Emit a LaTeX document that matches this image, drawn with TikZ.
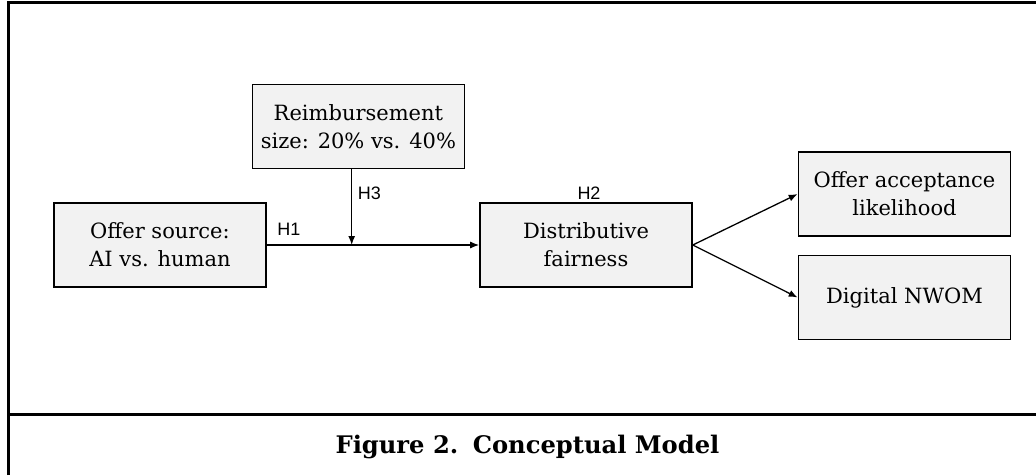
\documentclass[tikz,border=0pt]{standalone}
\usepackage{fontspec}
\setmainfont{DejaVu Serif}
\newfontfamily\lblfont{Liberation Sans}
\usetikzlibrary{arrows.meta}
\definecolor{boxfill}{RGB}{242,242,242}
\begin{document}
\begin{tikzpicture}[x=1pt,y=-1pt,
  box/.style={draw=black, line width=1.6pt, fill=boxfill, minimum width=212pt,
    minimum height=84pt, inner sep=0pt, align=center,
    font=\fontsize{21}{28}\selectfont},
  conn/.style={line width=1.3pt, -{Latex[length=9pt,width=7pt]}},
  hlab/.style={font=\lblfont\fontsize{18}{20}\selectfont, inner sep=0pt},
  framel/.style={line width=2.8pt}]
\useasboundingbox (0,0) rectangle (1036,475);
% frame
\draw[framel] (8.7,475) -- (8.7,2.7) -- (1036,2.7);
\draw[framel] (8.7,414.7) -- (1036,414.7);
% boxes
\node[box] (reim) at (358.4,126.5) {Reimbursement\\size: 20\% vs. 40\%};
\node[box] (src)  at (160,245) {Offer source:\\AI vs. human};
\node[box] (dist) at (586,245) {Distributive\\fairness};
\node[box] (acc)  at (904.5,194) {Offer acceptance\\likelihood};
\node[box] (nwom) at (904.5,297.5) {Digital NWOM};
% connectors
\coordinate (mod) at (351.7,245);
\draw[conn] (src.east) -- (dist.west);
\draw[conn] (reim.south -| mod) -- (mod);
\draw[conn] (dist.east) -- (acc.west);
\draw[conn] (dist.east) -- (nwom.west);
% labels
\node[hlab] (h1) at (289,229) {H1};
\node[hlab] (h3) at (369.5,193) {H3};
\node[hlab] (h2) at (589,193) {H2};
% caption
\node[font=\bfseries\fontsize{24.2}{28}\selectfont, inner sep=0pt] (cap) at (527.5,447)
  {Figure 2.\hspace{0.6em}Conceptual Model};
\end{tikzpicture}
\end{document}
